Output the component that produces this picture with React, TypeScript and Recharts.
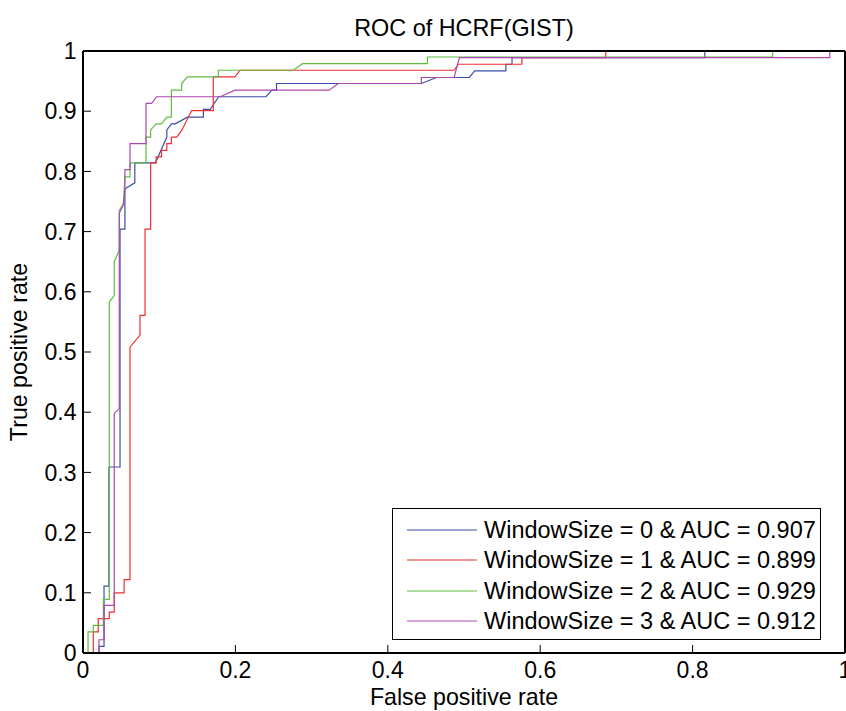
import React from "react";
import { Legend, Line, LineChart, XAxis, YAxis } from "recharts";

const xTicks = [0, 0.2, 0.4, 0.6, 0.8, 1];
const yTicks = [0, 0.1, 0.2, 0.3, 0.4, 0.5, 0.6, 0.7, 0.8, 0.9, 1];

// WindowSize = 0
const fpr0 = [
  0, 0.021, 0.021, 0.0276, 0.0276, 0.034, 0.034, 0.0486, 0.0486, 0.055, 0.055, 0.068, 0.068,
  0.095, 0.11, 0.11, 0.116, 0.121, 0.137, 0.158, 0.158, 0.167, 0.178, 0.24, 0.248, 0.254,
  0.254, 0.444, 0.464, 0.507, 0.514, 0.555, 0.555, 0.563, 0.563, 0.816, 0.816, 1,
];
const tpr0 = [
  0, 0, 0.011, 0.011, 0.111, 0.111, 0.309, 0.309, 0.704, 0.704, 0.771, 0.781, 0.814, 0.814,
  0.857, 0.869, 0.879, 0.879, 0.89, 0.89, 0.903, 0.903, 0.924, 0.924, 0.935, 0.935, 0.946,
  0.946, 0.956, 0.956, 0.967, 0.967, 0.978, 0.978, 0.989, 0.989, 1, 1,
];

// WindowSize = 1
const fpr1 = [
  0, 0.0135, 0.0135, 0.02, 0.02, 0.0345, 0.0345, 0.041, 0.041, 0.054, 0.054, 0.0617, 0.0617,
  0.0748, 0.0748, 0.0814, 0.0814, 0.0888, 0.0888, 0.096, 0.096, 0.103, 0.103, 0.11, 0.11,
  0.116, 0.116, 0.123, 0.1295, 0.1426, 0.171, 0.171, 0.1995, 0.206, 0.487, 0.4926, 0.576,
  0.576, 0.686, 0.686, 1,
];
const tpr1 = [
  0, 0, 0.035, 0.035, 0.057, 0.057, 0.068, 0.068, 0.1, 0.1, 0.122, 0.122, 0.508, 0.528, 0.561,
  0.561, 0.704, 0.704, 0.814, 0.814, 0.824, 0.824, 0.835, 0.835, 0.846, 0.846, 0.857, 0.857,
  0.868, 0.901, 0.901, 0.957, 0.957, 0.968, 0.968, 0.978, 0.978, 0.989, 0.989, 1, 1,
];

// WindowSize = 2
const fpr2 = [
  0, 0.0066, 0.0066, 0.0135, 0.0135, 0.0267, 0.0267, 0.0345, 0.0345, 0.041, 0.041, 0.0476,
  0.0476, 0.053, 0.055, 0.0617, 0.0617, 0.0827, 0.0827, 0.0888, 0.0888, 0.096, 0.103, 0.11,
  0.116, 0.116, 0.1295, 0.1295, 0.137, 0.1776, 0.1776, 0.276, 0.288, 0.452, 0.452, 0.905,
  0.905, 1,
];
const tpr2 = [
  0, 0, 0.035, 0.035, 0.046, 0.046, 0.089, 0.089, 0.583, 0.594, 0.65, 0.669, 0.735, 0.746,
  0.791, 0.791, 0.814, 0.814, 0.857, 0.857, 0.869, 0.879, 0.879, 0.89, 0.89, 0.935, 0.935,
  0.946, 0.957, 0.957, 0.968, 0.968, 0.979, 0.979, 0.99, 0.99, 1, 1,
];

// WindowSize = 3
const fpr3 = [
  0, 0.021, 0.021, 0.0276, 0.0276, 0.041, 0.041, 0.0476, 0.0476, 0.053, 0.055, 0.055, 0.0617,
  0.0617, 0.0827, 0.0827, 0.09, 0.0966, 0.18, 0.1995, 0.323, 0.335, 0.444, 0.444, 0.487,
  0.494, 0.98, 0.98, 1,
];
const tpr3 = [
  0, 0, 0.022, 0.022, 0.079, 0.079, 0.398, 0.406, 0.73, 0.745, 0.77, 0.803, 0.803, 0.846,
  0.846, 0.913, 0.913, 0.924, 0.924, 0.935, 0.935, 0.946, 0.946, 0.956, 0.956, 0.989, 0.989,
  1, 1,
];

const names = [
  "WindowSize = 0 & AUC = 0.907",
  "WindowSize = 1 & AUC = 0.899",
  "WindowSize = 2 & AUC = 0.929",
  "WindowSize = 3 & AUC = 0.912",
];
const colors = ["#3a4ea8", "#ee3030", "#5fbd42", "#ad48ad"];

const toPoints = (fpr: number[], tpr: number[]) => fpr.map((x, i) => ({ fpr: x, tpr: tpr[i] }));

const series = [
  { name: names[0], color: colors[0], data: toPoints(fpr0, tpr0) },
  { name: names[1], color: colors[1], data: toPoints(fpr1, tpr1) },
  { name: names[2], color: colors[2], data: toPoints(fpr2, tpr2) },
  { name: names[3], color: colors[3], data: toPoints(fpr3, tpr3) },
];

const FONT = "'Liberation Sans', Arial, Helvetica, sans-serif";
const tickStyle = { fill: "#000", fontSize: 23, fontFamily: FONT };
const axisLine = { stroke: "#000", strokeWidth: 2 };
const tickLine = { stroke: "#000", strokeWidth: 1 };

function TitleLabel({ viewBox }: any) {
  const cx = viewBox.x + viewBox.width / 2;
  return (
    <text x={cx} y={viewBox.y + 36} textAnchor="middle" fontSize={23.4} fontFamily={FONT} fill="#000">
      ROC of HCRF(GIST)
    </text>
  );
}

function XTitle({ viewBox }: any) {
  const cx = viewBox.x + viewBox.width / 2;
  return (
    <text x={cx} y={viewBox.y + 52} textAnchor="middle" fontSize={23.2} fontFamily={FONT} fill="#000">
      False positive rate
    </text>
  );
}

function YTitle({ viewBox }: any) {
  const cx = viewBox.x + 19;
  const cy = viewBox.y + viewBox.height / 2;
  return (
    <text
      x={cx}
      y={cy}
      transform={`rotate(-90 ${cx} ${cy})`}
      textAnchor="middle"
      dominantBaseline="central"
      fontSize={23.2}
      fontFamily={FONT}
      fill="#000"
    >
      True positive rate
    </text>
  );
}

function LegendBox() {
  return (
    <div
      style={{
        width: 429,
        height: 132,
        boxSizing: "border-box",
        border: "1px solid #000",
        background: "#fff",
        paddingTop: 6,
        fontFamily: FONT,
      }}
    >
      {series.map((s) => (
        <div key={s.name} style={{ height: 30.3, display: "flex", alignItems: "center" }}>
          <svg width={84} height={4} style={{ flexShrink: 0 }}>
            <line x1={14} x2={84} y1={2} y2={2} stroke={s.color} strokeWidth={1.2} />
          </svg>
          <span style={{ marginLeft: 7, fontSize: 23.5, lineHeight: "30px", color: "#000", whiteSpace: "nowrap" }}>
            {s.name}
          </span>
        </div>
      ))}
    </div>
  );
}

export default function App() {
  return (
    <div style={{ position: "absolute", left: 0, top: 0, width: 846, height: 711, background: "#fff" }}>
      <LineChart width={846} height={711} margin={{ top: 0, right: 0, bottom: 0, left: 0 }}>
        <XAxis
          xAxisId="bottom"
          dataKey="fpr"
          type="number"
          domain={[0, 1]}
          ticks={xTicks}
          interval={0}
          height={58}
          tickSize={-8}
          tickMargin={17}
          tick={tickStyle}
          axisLine={axisLine}
          tickLine={tickLine}
          tickFormatter={(v) => String(v)}
          label={<XTitle />}
        />
        <XAxis
          xAxisId="top"
          orientation="top"
          dataKey="fpr"
          type="number"
          domain={[0, 1]}
          ticks={xTicks}
          interval={0}
          height={51}
          tickSize={-8}
          tick={false}
          axisLine={axisLine}
          tickLine={tickLine}
          label={<TitleLabel />}
        />
        <YAxis
          yAxisId="left"
          type="number"
          domain={[0, 1]}
          ticks={yTicks}
          interval={0}
          width={83}
          tickSize={-8}
          tickMargin={14.5}
          tick={tickStyle}
          axisLine={axisLine}
          tickLine={tickLine}
          tickFormatter={(v) => String(v)}
          label={<YTitle />}
        />
        <YAxis
          yAxisId="right"
          orientation="right"
          type="number"
          domain={[0, 1]}
          ticks={yTicks}
          interval={0}
          width={1}
          tickSize={-8}
          tick={false}
          axisLine={axisLine}
          tickLine={tickLine}
        />
        {series.map((s) => (
          <Line
            key={s.name}
            xAxisId="bottom"
            yAxisId="left"
            data={s.data}
            dataKey="tpr"
            name={s.name}
            type="linear"
            stroke={s.color}
            strokeWidth={1.2}
            dot={false}
            activeDot={false}
            isAnimationActive={false}
          />
        ))}
        <Legend
          layout="vertical"
          align="center"
          verticalAlign="middle"
          content={<LegendBox />}
          wrapperStyle={{ left: 392, top: 508, width: 429, height: 132 }}
        />
      </LineChart>
    </div>
  );
}
